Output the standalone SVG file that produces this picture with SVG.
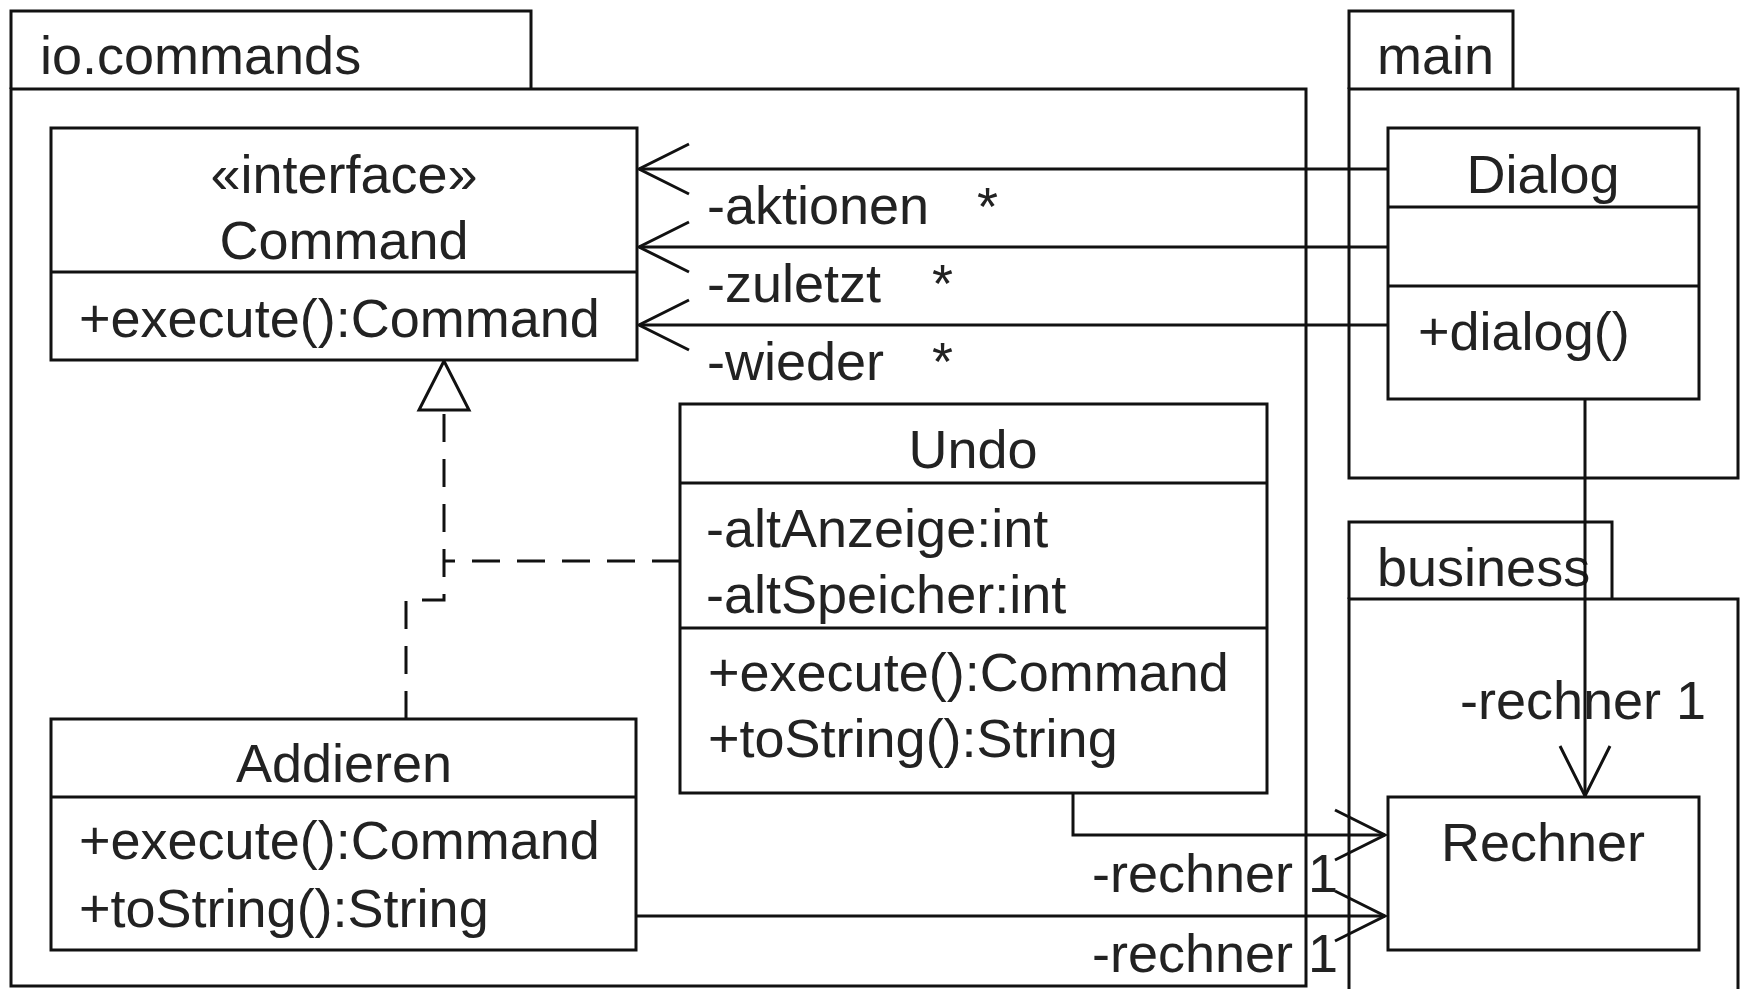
<svg xmlns="http://www.w3.org/2000/svg" width="1744" height="989" viewBox="0 0 1744 989">
<style>
.pkg, .cls { fill: none; stroke: #111; stroke-width: 3; }
.cls { fill: #fff; }
.t { font-family: "Liberation Sans", Arial, sans-serif; font-size: 54px; fill: #222; }
.c { text-anchor: middle; }
.ln { fill: none; stroke: #111; stroke-width: 3; }
.dash { stroke-dasharray: 28 17; }
</style>
<defs>
<marker id="open" viewBox="-56 -30 60 60" refX="0" refY="0" markerWidth="60" markerHeight="60" markerUnits="userSpaceOnUse" orient="auto" overflow="visible">
<path d="M-50,-25 L0,0 L-50,25" fill="none" stroke="#111" stroke-width="3"/>
</marker>
</defs>
<rect width="1744" height="989" fill="#fff"/>

<g id="pkg-io-commands">
<path class="pkg" d="M11,89 V11 H531 V89"/>
<rect class="pkg" x="11" y="89" width="1295" height="897"/>
<text class="t" x="40" y="74">io.commands</text>
</g>
<g id="pkg-main">
<path class="pkg" d="M1349,89 V11 H1513 V89"/>
<rect class="pkg" x="1349" y="89" width="389" height="389"/>
<text class="t" x="1377" y="74">main</text>
</g>
<g id="pkg-business">
<path class="pkg" d="M1349,599 V522 H1612 V599"/>
<path class="pkg" d="M1349,995 V599 H1738 V995"/>
<text class="t" x="1377" y="586">business</text>
</g>

<g id="connectors">
<path class="ln" d="M1388,169 H639" marker-end="url(#open)"/>
<path class="ln" d="M1388,247 H639" marker-end="url(#open)"/>
<path class="ln" d="M1388,325 H639" marker-end="url(#open)"/>
<path class="ln" d="M1585,399 V796" marker-end="url(#open)"/>
<path class="ln" d="M1073,793 V835 H1385" marker-end="url(#open)"/>
<path class="ln" d="M636,916 H1385" marker-end="url(#open)"/>
<path class="ln dash" d="M406,719 V600 H444 V410"/>
<path class="ln dash" d="M680,561 H444"/>
<polygon points="444,361 419,410 469,410" fill="#fff" stroke="#111" stroke-width="3"/>
<text class="t" x="707" y="224">-aktionen</text>
<text class="t" x="977" y="225">*</text>
<text class="t" x="707" y="302">-zuletzt</text>
<text class="t" x="932" y="302">*</text>
<text class="t" x="707" y="380">-wieder</text>
<text class="t" x="932" y="380">*</text>
<text class="t" x="1460" y="719">-rechner 1</text>
<text class="t" x="1092" y="892">-rechner 1</text>
<text class="t" x="1092" y="972">-rechner 1</text>
</g>

<g id="Command">
<rect class="cls" x="51" y="128" width="586" height="232"/>
<line class="ln" x1="51" y1="272" x2="637" y2="272"/>
<text class="t c" x="344" y="193">«interface»</text>
<text class="t c" x="344" y="259">Command</text>
<text class="t" x="79" y="337">+execute():Command</text>
</g>

<g id="Dialog">
<rect class="cls" x="1388" y="128" width="311" height="271"/>
<line class="ln" x1="1388" y1="207" x2="1699" y2="207"/>
<line class="ln" x1="1388" y1="286" x2="1699" y2="286"/>
<text class="t c" x="1543" y="193">Dialog</text>
<text class="t" x="1418" y="350">+dialog()</text>
</g>

<g id="Undo">
<rect class="cls" x="680" y="404" width="587" height="389"/>
<line class="ln" x1="680" y1="483" x2="1267" y2="483"/>
<line class="ln" x1="680" y1="628" x2="1267" y2="628"/>
<text class="t c" x="973" y="468">Undo</text>
<text class="t" x="706" y="547">-altAnzeige:int</text>
<text class="t" x="706" y="613">-altSpeicher:int</text>
<text class="t" x="708" y="691">+execute():Command</text>
<text class="t" x="708" y="757">+toString():String</text>
</g>

<g id="Addieren">
<rect class="cls" x="51" y="719" width="585" height="231"/>
<line class="ln" x1="51" y1="797" x2="636" y2="797"/>
<text class="t c" x="344" y="782">Addieren</text>
<text class="t" x="79" y="859">+execute():Command</text>
<text class="t" x="79" y="927">+toString():String</text>
</g>

<g id="Rechner">
<rect class="cls" x="1388" y="797" width="311" height="153"/>
<text class="t c" x="1543" y="861">Rechner</text>
</g>
</svg>
